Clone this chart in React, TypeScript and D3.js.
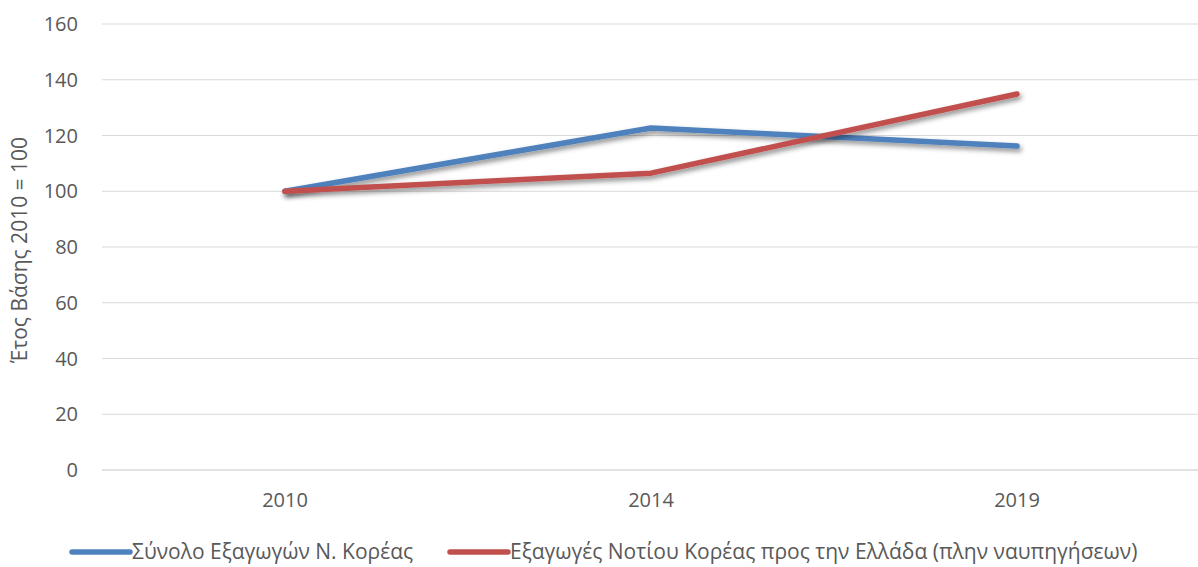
import { useEffect, useRef } from 'react';
import * as d3 from 'd3';

// δεδομένα (τιμές διαβασμένες από το γράφημα)
const years = ['2010', '2014', '2019'];
const totalExports = [100, 122.7, 116.2];
const exportsToGreece = [100, 106.5, 134.9];
const yTicks = [0, 20, 40, 60, 80, 100, 120, 140, 160];
const seriesNames = [
  'Σύνολο Εξαγωγών Ν. Κορέας',
  'Εξαγωγές Νοτίου Κορέας προς την Ελλάδα (πλην ναυπηγήσεων)',
];
const seriesColors = ['#4F81BD', '#C0504D'];

const W = 1198;
const H = 567;
const FONT = '"Open Sans", "Noto Sans", sans-serif';

const App = () => {
  const svgRef = useRef<SVGSVGElement | null>(null);

  useEffect(() => {
    if (!svgRef.current) return;
    const svg = d3.select(svgRef.current);
    svg.selectAll('*').remove();

    const left = 102, right = 1200, top = 24, bottom = 470;

    const x = d3.scaleBand<string>().domain(years).range([left, right]);
    const y = d3.scaleLinear().domain([0, 160]).range([bottom, top]);

    // sombra
    const defs = svg.append('defs');
    const f = defs.append('filter').attr('id', 'shadow')
      .attr('x', '-10%').attr('y', '-30%').attr('width', '120%').attr('height', '160%');
    f.append('feDropShadow').attr('dx', 2).attr('dy', 3).attr('stdDeviation', 2.5)
      .attr('flood-color', '#000').attr('flood-opacity', 0.45);

    // gridlines
    svg.append('g').selectAll('line').data(yTicks).enter().append('line')
      .attr('x1', left).attr('x2', W)
      .attr('y1', d => y(d)).attr('y2', d => y(d))
      .attr('stroke', '#d9d9d9').attr('stroke-width', d => d === 0 ? 1.5 : 1.2);

    // y tick labels
    svg.append('g').selectAll('text').data(yTicks).enter().append('text')
      .attr('x', 78).attr('y', d => y(d))
      .attr('dy', '0.35em').attr('text-anchor', 'end')
      .attr('font-family', FONT).attr('font-size', 20).attr('fill', '#595959')
      .text(d => d);

    // x tick labels
    svg.append('g').selectAll('text').data(years).enter().append('text')
      .attr('x', d => (x(d) as number) + x.bandwidth() / 2).attr('y', 500)
      .attr('dy', '0.35em').attr('text-anchor', 'middle')
      .attr('font-family', FONT).attr('font-size', 20).attr('fill', '#595959')
      .text(d => d);

    // y axis title
    svg.append('text')
      .attr('transform', `translate(20,${250}) rotate(-90)`)
      .attr('text-anchor', 'middle').attr('dy', '0.35em')
      .attr('font-family', FONT).attr('font-size', 21).attr('fill', '#595959')
      .text('Έτος Βάσης 2010 = 100');

    const line = d3.line<number>()
      .x((_, i) => (x(years[i]) as number) + x.bandwidth() / 2)
      .y(d => y(d));

    [totalExports, exportsToGreece].forEach((vals, i) => {
      svg.append('path').datum(vals)
        .attr('d', line)
        .attr('fill', 'none')
        .attr('stroke', seriesColors[i])
        .attr('stroke-width', 5.5)
        .attr('stroke-linecap', 'round')
        .attr('stroke-linejoin', 'round')
        .attr('filter', 'url(#shadow)');
    });

    // legend
    const legendX = [72, 450];
    seriesNames.forEach((name, i) => {
      const g = svg.append('g');
      g.append('line')
        .attr('x1', legendX[i]).attr('x2', legendX[i] + 58)
        .attr('y1', 552).attr('y2', 552)
        .attr('stroke', seriesColors[i]).attr('stroke-width', 5.5)
        .attr('stroke-linecap', 'round');
      g.append('text')
        .attr('x', legendX[i] + 60).attr('y', 552).attr('dy', '0.35em')
        .attr('font-family', FONT).attr('font-size', 21).attr('fill', '#595959')
        .text(name);
    });
  }, []);

  return (
    <svg ref={svgRef} width={W} height={H}
      style={{ position: 'absolute', left: 0, top: 0, display: 'block', background: '#fff' }} />
  );
};

export default App;
